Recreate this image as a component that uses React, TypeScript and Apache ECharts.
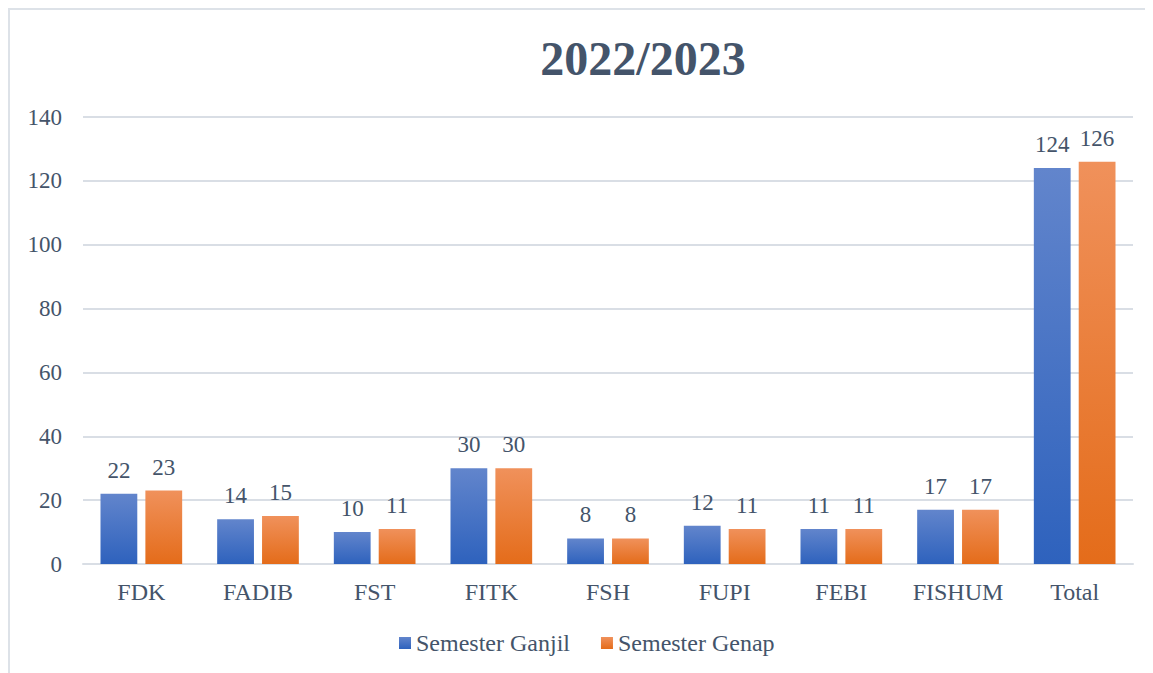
import React, { useEffect, useRef } from "react";
import * as echarts from "echarts";

const categories = ["FDK", "FADIB", "FST", "FITK", "FSH", "FUPI", "FEBI", "FISHUM", "Total"];
const ganjil = [22, 14, 10, 30, 8, 12, 11, 17, 124];
const genap = [23, 15, 11, 30, 8, 11, 11, 17, 126];
const seriesNames = ["Semester Ganjil", "Semester Genap"];
const titleText = "2022/2023";

const textColor = "#44546A";
const font = "Liberation Serif";
const gridColor = "#D9DEE5";

export default function App() {
  const ref = useRef<HTMLDivElement>(null);
  useEffect(() => {
    if (!ref.current) return;
    const chart = echarts.init(ref.current, null, { renderer: "svg" });
    const grad = (top: string, bottom: string) =>
      new echarts.graphic.LinearGradient(0, 0, 0, 1, [
        { offset: 0, color: top },
        { offset: 1, color: bottom },
      ]);
    const labelStyle = { show: true, position: "top", distance: 12, fontFamily: font, fontSize: 23, color: textColor };
    chart.setOption({
      animation: false,
      textStyle: { fontFamily: font },
      graphic: [
        {
          type: "rect",
          shape: { x: 1, y: 1, width: 1300, height: 900 },
          style: { fill: "none", stroke: "#DDE2E8", lineWidth: 2 },
          silent: true,
        },
      ],
      title: {
        text: titleText,
        left: 630,
        textAlign: "center",
        top: 21,
        textStyle: { fontFamily: font, fontSize: 48, fontWeight: "bold", color: textColor },
      },
      legend: {
        data: seriesNames,
        left: 386,
        top: 618,
        itemWidth: 12,
        itemHeight: 12,
        itemGap: 31,
        icon: "rect",
        textStyle: { fontFamily: font, fontSize: 24, color: textColor },
      },
      grid: { left: 75, right: 20, top: 109, bottom: 109 },
      xAxis: {
        type: "category",
        data: categories,
        axisLine: { lineStyle: { color: gridColor, width: 2 } },
        axisTick: { show: false },
        axisLabel: { fontFamily: font, fontSize: 24, color: textColor, margin: 16, interval: 0 },
      },
      yAxis: {
        type: "value",
        min: 0,
        max: 140,
        interval: 20,
        axisLine: { show: false },
        axisTick: { show: false },
        axisLabel: { fontFamily: font, fontSize: 23, color: textColor, margin: 21 },
        splitLine: { lineStyle: { color: gridColor, width: 2 } },
      },
      series: [
        {
          name: seriesNames[0],
          type: "bar",
          data: ganjil,
          barGap: "22%",
          barCategoryGap: "30%",
          itemStyle: { color: grad("#6285CC", "#2E62BD") },
          label: labelStyle,
        },
        {
          name: seriesNames[1],
          type: "bar",
          data: genap,
          itemStyle: { color: grad("#F0915B", "#E46C1A") },
          label: labelStyle,
        },
      ],
    });
    return () => chart.dispose();
  }, []);
  return <div ref={ref} style={{ width: 1145, height: 665 }} />;
}
